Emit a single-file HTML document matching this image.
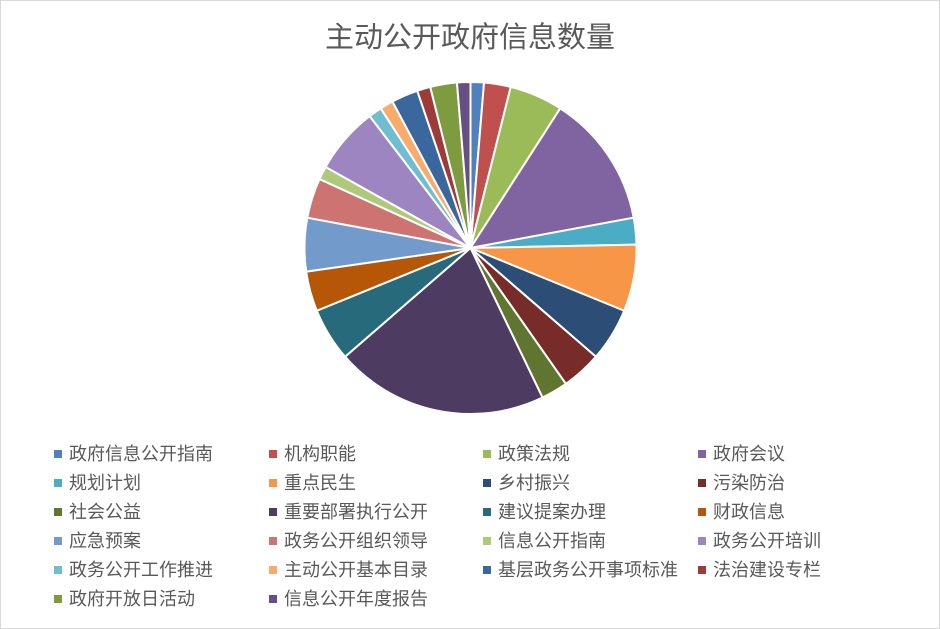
<!DOCTYPE html>
<html><head><meta charset="utf-8"><style>
body{margin:0;background:#fff;}
#c{position:relative;width:938px;height:627px;border:1px solid #d9d9d9;background:#fff;font-family:"Liberation Sans","Noto Sans CJK SC",sans-serif;overflow:hidden}
.t{position:absolute;top:13px;left:0;width:938px;text-align:center;font-size:29px;color:#595959}
.l{position:absolute;font-size:18px;color:#595959;white-space:nowrap;line-height:20px}
.l i{display:inline-block;width:8px;height:8px;margin-right:7px;vertical-align:2px}
svg{position:absolute;left:0;top:0}
</style></head><body><div id="c">
<div class="t">主动公开政府信息数量</div>
<svg id="s" width="938" height="627"></svg>
<div id="lg"></div>
</div>
<script>
var names=["政府信息公开指南","机构职能","政策法规","政府会议","规划计划","重点民生","乡村振兴","污染防治","社会公益","重要部署执行公开","建议提案办理","财政信息","应急预案","政务公开组织领导","信息公开指南","政务公开培训","政务公开工作推进","主动公开基本目录","基层政务公开事项标准","法治建设专栏","政府开放日活动","信息公开年度报告"];
var vals=[1,2,4,10,2,5,4,3,2,16,4,3,4,3,1,5,1,1,2,1,2,1];
var cols=["#4F81BD","#C0504D","#9BBB59","#8064A2","#4BACC6","#F79646","#2C4D75","#772C2A","#5F7530","#4D3B62","#276A7C","#B65708","#729ACA","#CD7371","#AFC97A","#9C85C0","#6FBDD1","#F9AB6B","#3A679C","#9E3B38","#7E9B40","#664F83"];
var tot=vals.reduce((a,b)=>a+b,0),cx=469.5,cy=247,r=166,a=0,h="";
function pt(t){return [cx+r*Math.sin(t),cy-r*Math.cos(t)];}
vals.forEach(function(v,i){var a1=a+v/tot*2*Math.PI,p0=pt(a),p1=pt(a1);
h+='<path d="M'+cx+','+cy+'L'+p0[0]+','+p0[1]+'A'+r+','+r+' 0 '+(a1-a>Math.PI?1:0)+' 1 '+p1[0]+','+p1[1]+'Z" fill="'+cols[i]+'" stroke="#fff" stroke-width="2" stroke-linejoin="round"/>';a=a1;});
document.getElementById('s').innerHTML=h;
var xs=[53,268,482,697],lh="";
names.forEach(function(n,i){lh+='<div class="l" style="left:'+xs[i%4]+'px;top:'+(443+Math.floor(i/4)*29)+'px"><i style="background:'+cols[i]+'"></i>'+n+'</div>';});
document.getElementById('lg').innerHTML=lh;
</script>
</body></html>
